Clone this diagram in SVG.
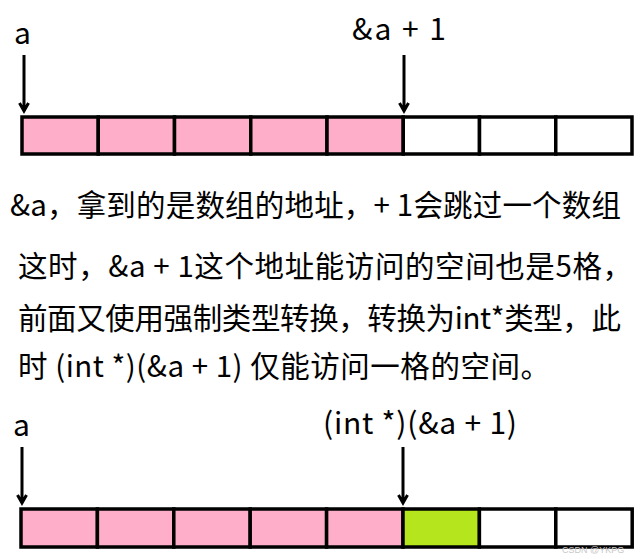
<svg xmlns="http://www.w3.org/2000/svg" width="640" height="559" viewBox="0 0 640 559">
<style>
text{font-family:"Noto Sans CJK SC","Microsoft YaHei",sans-serif;fill:#000}
.lbl{font-size:30px}
.body{font-size:29.5px}
.cell{stroke:#000;stroke-width:3.5}
.p{fill:#FFAEC9}
.w{fill:#fff}
.g{fill:#B5E61D}
.arr{stroke:#000;stroke-width:3;fill:none}
.wm{font-size:9px;fill:#c8c8c8;font-family:"Liberation Sans",sans-serif}
</style>
<rect width="640" height="559" fill="#fff"/>
<g id="top-labels">
<text class="lbl" x="14" y="44">a</text>
<text class="lbl" x="352" y="40" textLength="94" lengthAdjust="spacing">&amp;a + 1</text>
</g>
<g id="top-array">
<rect class="cell p" x="22" y="117" width="76.25" height="37"/>
<rect class="cell p" x="98.25" y="117" width="76.25" height="37"/>
<rect class="cell p" x="174.5" y="117" width="76.25" height="37"/>
<rect class="cell p" x="250.75" y="117" width="76.25" height="37"/>
<rect class="cell p" x="327" y="117" width="76.25" height="37"/>
<rect class="cell w" x="403.25" y="117" width="76.25" height="37"/>
<rect class="cell w" x="479.5" y="117" width="76.25" height="37"/>
<rect class="cell w" x="555.75" y="117" width="76.25" height="37"/>
</g>
<g id="text">
<text class="body" x="10" y="216" textLength="611" lengthAdjust="spacing">&amp;a，拿到的是数组的地址，+ 1会跳过一个数组</text>
<text class="body" x="18" y="277" textLength="614" lengthAdjust="spacing">这时，&amp;a + 1这个地址能访问的空间也是5格，</text>
<text class="body" x="18" y="329" textLength="603" lengthAdjust="spacing">前面又使用强制类型转换，转换为int*类型，此</text>
<text class="body" x="18" y="377" textLength="532" lengthAdjust="spacing">时 (int *)(&amp;a + 1) 仅能访问一格的空间。</text>
</g>
<g id="bottom-labels">
<text class="lbl" x="13" y="436">a</text>
<text class="lbl" x="323" y="434" textLength="194" lengthAdjust="spacing">(int *)(&amp;a + 1)</text>
</g>
<g id="bottom-array">
<rect class="cell p" x="21" y="509" width="76.4" height="38"/>
<rect class="cell p" x="97.4" y="509" width="76.4" height="38"/>
<rect class="cell p" x="173.8" y="509" width="76.4" height="38"/>
<rect class="cell p" x="250.2" y="509" width="76.4" height="38"/>
<rect class="cell p" x="326.6" y="509" width="76.4" height="38"/>
<rect class="cell g" x="403" y="509" width="76.4" height="38"/>
<rect class="cell w" x="479.4" y="509" width="76.4" height="38"/>
<rect class="cell w" x="555.8" y="509" width="76.4" height="38"/>
</g>
<g id="connectors">
<path class="arr" d="M24,55 V111 M19.5,103 L24,111 L28.5,103"/>
<path class="arr" d="M404,55 V111 M399.5,103 L404,111 L408.5,103"/>
<path class="arr" d="M22,447 V503 M17.5,495 L22,503 L26.5,495"/>
<path class="arr" d="M403,447 V503 M398.5,495 L403,503 L407.5,495"/>
</g>
<text class="wm" x="562" y="553">CSDN @YKPG</text>
</svg>
